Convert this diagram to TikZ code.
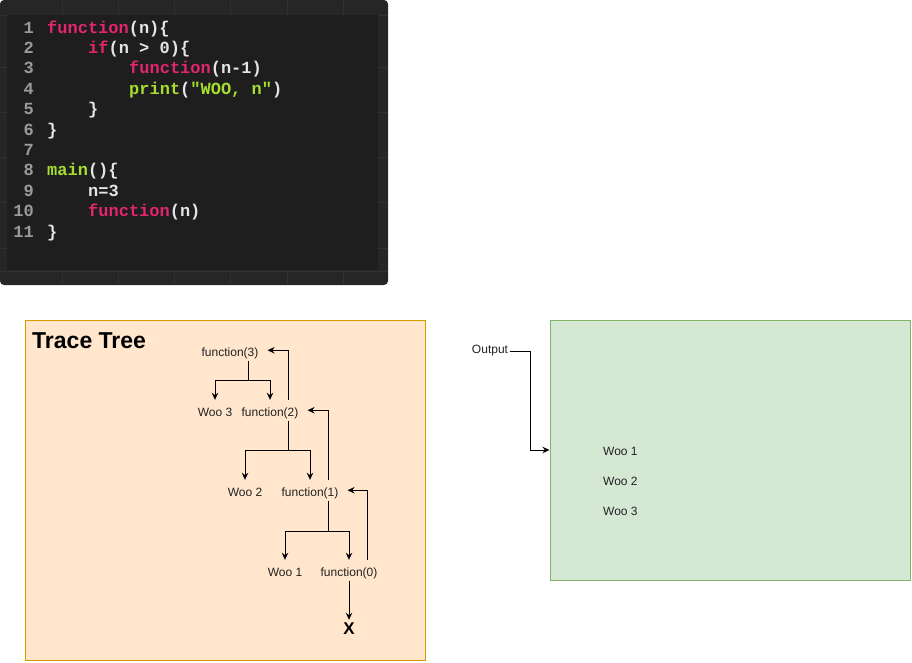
\documentclass[tikz,border=0pt]{standalone}
\usepackage{fontspec}
\setmainfont{Liberation Sans}
\newfontfamily\codefont{Liberation Mono}
\usetikzlibrary{arrows.meta}

% editor colours
\definecolor{edframe}{HTML}{262626}
\definecolor{edgrid}{HTML}{313131}
\definecolor{edpanel}{HTML}{1E1E1E}
\definecolor{kwpink}{HTML}{E3266C}
\definecolor{kwgreen}{HTML}{A6DD2E}
\definecolor{codetext}{HTML}{E4E4E4}
\definecolor{linenum}{HTML}{9A9A9A}
% diagram colours
\definecolor{treefill}{HTML}{FFE6CC}
\definecolor{treeline}{HTML}{D79B00}
\definecolor{outfill}{HTML}{D5E8D4}
\definecolor{outline}{HTML}{82B366}
\definecolor{ink}{HTML}{222222}

\newcommand{\kwp}[1]{\textcolor{kwpink}{#1}}
\newcommand{\kwg}[1]{\textcolor{kwgreen}{#1}}

\begin{document}
\begin{tikzpicture}[x=1pt,y=-1pt,
  codeline/.style={anchor=base west,inner sep=0pt,text=codetext,
    font=\codefont\bfseries\fontsize{17}{20}\selectfont},
  lineno/.style={anchor=base east,inner sep=0pt,text=linenum,
    font=\codefont\bfseries\fontsize{17}{20}\selectfont},
  panel/.style={draw,line width=1pt,inner sep=0pt},
  lbl/.style={anchor=base,inner xsep=2pt,inner ysep=2pt,text height=14pt,
    text depth=2.5pt,text=ink,font=\fontsize{12}{14}\selectfont},
  plain/.style={inner sep=2pt,text=ink,font=\fontsize{12}{14}\selectfont},
  edge/.style={draw=black,line width=1pt},
  arr/.style={edge,-{Stealth[length=7pt,width=6.5pt]}},
]
\useasboundingbox (0,0) rectangle (912,662);

% ---------------- code editor ----------------
\fill[edframe,rounded corners=4pt] (0,0) rectangle (388,285);
\foreach \gx in {62,118,174,230,287,343}
  \draw[edgrid,line width=0.8pt] (\gx,0) -- (\gx,285);
\foreach \gy in {15,67,112,157,202,248,271}
  \draw[edgrid,line width=0.8pt] (0,\gy) -- (388,\gy);
\fill[edpanel] (7,15) rectangle (378,270);

\foreach \n/\yy in {1/33,2/53.4,3/73.8,4/94.2,5/114.6,6/135,7/155.4,8/175.8,9/196.2,10/216.6,11/237}
  \node[lineno] (n\n) at (34,\yy) {\n};

\node[codeline] (c1)  at (47,33)    {\kwp{function}(n)\{};
\node[codeline] (c2)  at (88,53.4)  {\kwp{if}(n > 0)\{};
\node[codeline] (c3)  at (129,73.8) {\kwp{function}(n-1)};
\node[codeline] (c4)  at (129,94.2) {\kwg{print}(\kwg{"WOO, n"})};
\node[codeline] (c5)  at (88,114.6) {\}};
\node[codeline] (c6)  at (47,135)   {\}};
\node[codeline] (c8)  at (47,175.8) {\kwg{main}()\{};
\node[codeline] (c9)  at (88,196.2) {n=3};
\node[codeline] (c10) at (88,216.6) {\kwp{function}(n)};
\node[codeline] (c11) at (47,237)   {\}};

% ---------------- trace tree ----------------
\node[panel,draw=treeline,fill=treefill,minimum width=400pt,minimum height=340pt]
  (tree) at (225,490) {};
\node[anchor=west,inner sep=2pt,text=black,font=\bfseries\fontsize{23}{26}\selectfont]
  (title) at (30,340.5) {Trace Tree};

\node[lbl] (f3) at (230,356) {function(3)};
\node[lbl] (w3) at (215,416) {Woo 3};
\node[lbl] (f2) at (270,416) {function(2)};
\node[lbl] (w2) at (245,496) {Woo 2};
\node[lbl] (f1) at (310,496) {function(1)};
\node[lbl] (w1) at (285,576) {Woo 1};
\node[lbl] (f0) at (349,576) {function(0)};
\node[anchor=base,inner sep=2pt,text height=12pt,text=black,
  font=\bfseries\fontsize{17}{20}\selectfont] (x) at (349,634) {X};

% calls going down
\draw[edge] ([xshift=18pt]f3.south) -- ++(0,19.5) coordinate (j3);
\draw[arr] (j3) -| (w3.north);
\draw[arr] (j3) -| (f2.north);
\draw[edge] ([xshift=18pt]f2.south) -- ++(0,29.5) coordinate (j2);
\draw[arr] (j2) -| (w2.north);
\draw[arr] (j2) -| (f1.north);
\draw[edge] ([xshift=18pt]f1.south) -- ++(0,30.5) coordinate (j1);
\draw[arr] (j1) -| (w1.north);
\draw[arr] (j1) -| (f0.north);
\draw[arr] (f0.south) -- (x.north);

% returns going up
\draw[arr] ([xshift=18pt]f2.north) |- ([xshift=7pt]f3.east);
\draw[arr] ([xshift=18pt]f1.north) |- ([xshift=7pt]f2.east);
\draw[arr] ([xshift=18pt]f0.north) |- ([xshift=7pt]f1.east);

% ---------------- output ----------------
\node[panel,draw=outline,fill=outfill,minimum width=360pt,minimum height=260pt]
  (out) at (730,450) {};
\node[plain] (outlbl) at (490,351) {Output};
\draw[arr] (outlbl.east) -- ++(20,0) |- (out.west);

\node[plain,anchor=base west] (o1) at (601,455)   {Woo 1};
\node[plain,anchor=base west] (o2) at (601,485.5) {Woo 2};
\node[plain,anchor=base west] (o3) at (601,515.5) {Woo 3};
\end{tikzpicture}
\end{document}
